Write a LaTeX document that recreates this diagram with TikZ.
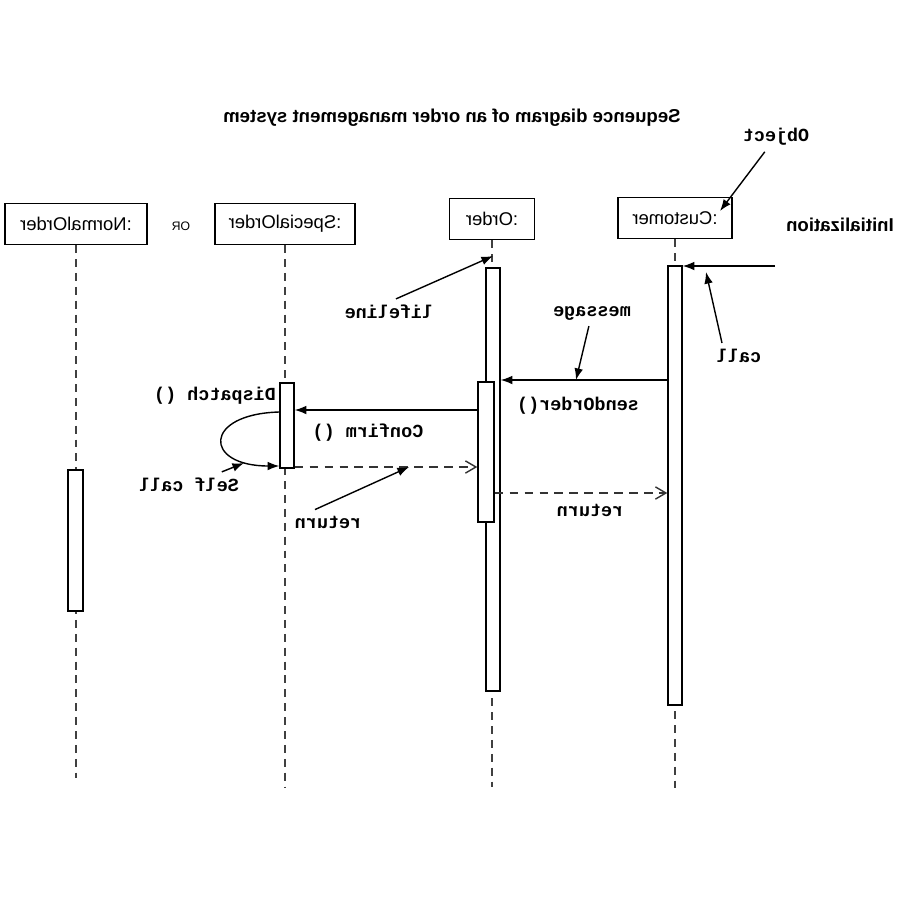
\documentclass[tikz,border=0pt]{standalone}
\usepackage{fontspec}
\setmainfont{Liberation Sans}
\setsansfont{Liberation Sans}
\setmonofont{Liberation Mono}
\usetikzlibrary{arrows.meta,fit}
\tikzset{
    >=Latex,
    mirror/.style={xscale=-1},
    obj/.style={draw,line width=0.8pt,mirror,minimum height=0.82cm,font=\fontsize{10.5}{12}\selectfont},
    bar/.style={draw,line width=0.8pt,fill=white,inner sep=0pt},
    lifeline/.style={dash pattern=on 4.5pt off 3.4pt,line width=0.8pt,black!75},
    note/.style={mirror,font=\ttfamily\bfseries\fontsize{10.5}{12}\selectfont},
    msg/.style={->,line width=0.8pt},
    ret/.style={-{Straight Barb[length=6pt,width=7pt]},dash pattern=on 5pt off 3.5pt,line width=0.8pt,black!80},
    ptr/.style={->,line width=0.8pt},
}
\begin{document}
\begin{tikzpicture}[x=0.02cm,y=-0.02cm]
\useasboundingbox (0,0) rectangle (900,900);

\node[mirror,font=\bfseries\fontsize{10.6}{12}\selectfont] (title) at (452,118) {Sequence diagram of an order management system};

% objects
\node[obj,minimum width=2.84cm] (normal) at (76,224) {:NormalOrder};
\node[mirror,font=\fontsize{7}{8}\selectfont] (or) at (181,226) {OR};
\node[obj,minimum width=2.8cm] (special) at (285,224) {:SpecialOrder};
\node[obj,minimum width=1.7cm] (order) at (492,219) {:Order};
\node[obj,minimum width=2.28cm] (cust) at (675,218) {:Customer};
\node[mirror,font=\bfseries\fontsize{10.6}{12}\selectfont] (init) at (840,225) {Initialization};

% lifelines
\draw[lifeline] (normal) -- (normal |- 0,778);
\draw[lifeline] (special) -- (special |- 0,787);
\draw[lifeline] (order) -- (order |- 0,787);
\draw[lifeline] (cust) -- (cust |- 0,788);

% activations
\node[bar,fit={(68,470) (83,611)}] (normalbar) {};
\node[bar,fit={(280,383) (294,468)}] (specbar) {};
\node[bar,fit={(486,268) (500,691)}] (ordbar) {};
\node[bar,fit={(478,382) (494,522)}] (ordact) {};
\node[bar,fit={(668,266) (682,705)}] (custbar) {};

% messages
\coordinate (initstart) at (775,266);
\draw[msg] (initstart) -- (custbar.east |- initstart);
\draw[msg] (custbar.west |- 0,380) -- (ordbar.east |- 0,380);
\draw[msg] (ordact.west |- 0,410) -- (specbar.east |- 0,410);
\draw[msg] (specbar.west |- 0,412) .. controls (203,414) and (203,466) .. (specbar.west |- 0,466);
\draw[ret] (specbar.east |- 0,467) -- (ordact.west |- 0,467);
\draw[ret] (ordact.east |- 0,493) -- (custbar.west |- 0,493);

% labels
\node[note] (objlbl) at (776,137) {Object};
\node[note] (lifelbl) at (389,312) {lifeline};
\node[note] (msglbl) at (592,313) {message};
\node[note] (calllbl) at (739,356) {call};
\node[note] (sendlbl) at (578,406) {sendOrder()};
\node[note] (displbl) at (215,396) {Dispatch ()};
\node[note] (conflbl) at (368,433) {Confirm ()};
\node[note] (selflbl) at (189,485) {Self call};
\node[note] (retlbl) at (328,522) {return};
\node[note] (retlblb) at (590,510) {return};

% pointers
\coordinate (objtip) at (720,211);
\coordinate (lifetip) at (493,256);
\coordinate (msgtip) at (576,380);
\coordinate (calltip) at (706,272);
\coordinate (selftip) at (244,463);
\coordinate (rettip) at (409,467);
\draw[ptr] (objlbl) -- (objtip);
\draw[ptr] ([xshift=0.14cm]lifelbl.north) -- (lifetip);
\draw[ptr] (msglbl) -- (msgtip);
\draw[ptr] ([xshift=-0.34cm]calllbl.north) -- (calltip);
\draw[ptr] (selflbl) -- (selftip);
\draw[ptr] ([xshift=-0.26cm]retlbl.north) -- (rettip);
\end{tikzpicture}
\end{document}
